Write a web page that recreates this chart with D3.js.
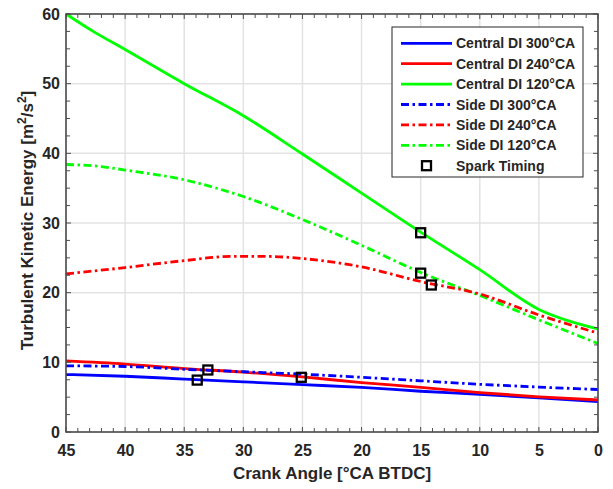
<!DOCTYPE html>
<html><head><meta charset="utf-8">
<script src="https://cdn.jsdelivr.net/npm/d3@7"></script>
<style>body{margin:0;background:#fff}svg{display:block}text{font-family:"Liberation Sans",Arial,sans-serif;font-weight:bold;fill:#262626}</style>
</head><body><div id="chart"></div>
<script>
const c300X=[45,40,35,30,25,20,15,10,5,0];
const c300Y=[8.25,8.0,7.6,7.2,6.8,6.4,5.85,5.4,4.9,4.35];
const c240X=[45,40,35,30,25,20,15,10,5,0];
const c240Y=[10.2,9.75,9.1,8.6,7.9,7.1,6.4,5.65,5.05,4.6];
const c120X=[45,42.7,40,35,30,25,20,15,10,5,2,0];
const c120Y=[60,57.5,54.9,50.0,45.4,39.9,34.3,28.7,23.3,17.6,15.7,14.8];
const s300X=[45,40,35,30,25,20,15,10,5,0];
const s300Y=[9.5,9.4,9.0,8.65,8.3,7.85,7.35,6.85,6.45,6.1];
const s240X=[45,40,35,31,28,25,20,15,10,5,0];
const s240Y=[22.7,23.6,24.6,25.2,25.2,24.9,23.7,21.6,19.8,16.8,14.2];
const s120X=[45,42,40,35,30,25,20,15,10,5,0];
const s120Y=[38.4,38.1,37.6,36.2,33.8,30.5,26.8,22.9,19.6,16.1,12.7];
const sparkX=[33.9,33,25.1,15,15,14.1];
const sparkY=[7.45,8.9,7.85,28.6,22.8,21.1];
const seriesNames=["Central DI 300°CA","Central DI 240°CA","Central DI 120°CA","Side DI 300°CA","Side DI 240°CA","Side DI 120°CA"];
const seriesColors=["#0000ff","#ff0000","#00ff00","#0000ff","#ff0000","#00ff00"];
const xTicks=[45,40,35,30,25,20,15,10,5,0];
const yTicks=[0,10,20,30,40,50,60];

const W=613,H=489;
const m={l:66,r:15,t:14,b:57};
const svg=d3.select("#chart").append("svg").attr("width",W).attr("height",H);
const x=d3.scaleLinear().domain([45,0]).range([m.l,W-m.r]);
const y=d3.scaleLinear().domain([0,60]).range([H-m.b,m.t]);
const pw=W-m.r-m.l, ph=H-m.b-m.t;

// grid
const g=svg.append("g");
g.selectAll("line.gx").data(xTicks).join("line").attr("x1",d=>x(d)).attr("x2",d=>x(d)).attr("y1",m.t).attr("y2",H-m.b).attr("stroke","#e3e3e3").attr("stroke-width",1.5);
g.selectAll("line.gy").data(yTicks).join("line").attr("y1",d=>y(d)).attr("y2",d=>y(d)).attr("x1",m.l).attr("x2",W-m.r).attr("stroke","#e3e3e3").attr("stroke-width",1.5);

// series
const allX=[c300X,c240X,c120X,s300X,s240X,s120X];
const allY=[c300Y,c240Y,c120Y,s300Y,s240Y,s120Y];
const line=d3.line().x(d=>x(d[0])).y(d=>y(d[1])).curve(d3.curveMonotoneX);
const dash="8,3.5,2.5,3.5";
const drawOrder=[2,5,4,0,1,3];
drawOrder.forEach(i=>{
  const pts=allX[i].map((v,j)=>[v,allY[i][j]]);
  svg.append("path").datum(pts).attr("d",line).attr("fill","none").attr("stroke",seriesColors[i]).attr("stroke-width",2.8)
    .attr("stroke-dasharray",i>=3?dash:null);
});
// spark markers
svg.selectAll("rect.sp").data(sparkX.map((v,j)=>[v,sparkY[j]])).join("rect")
  .attr("x",d=>x(d[0])-4.5).attr("y",d=>y(d[1])-4.5).attr("width",9).attr("height",9)
  .attr("fill","none").attr("stroke","#000").attr("stroke-width",2.3);

// axes box
const axc="#4d4d4d";
const xa=d3.axisBottom(x).tickValues(xTicks).tickSize(0).tickPadding(13);
const xb=svg.append("g").attr("transform",`translate(0,${H-m.b})`).call(xa);
xb.select(".domain").remove();
xb.selectAll("text").attr("font-size",16).attr("fill","#262626");
const ya=d3.axisLeft(y).tickValues(yTicks).tickSize(0).tickPadding(6);
const yb=svg.append("g").attr("transform",`translate(${m.l},0)`).call(ya);
yb.select(".domain").remove();
yb.selectAll("text").attr("font-size",16).attr("fill","#262626");

// ticks (inward), major and minor on all sides
const xMinor=d3.range(0,46,1), yMinor=d3.range(0,60.1,2.5);
const tk=svg.append("g").attr("stroke",axc).attr("stroke-width",1);
xMinor.forEach(v=>{
  const L=(v%5===0)?5:4;
  tk.append("line").attr("x1",x(v)).attr("x2",x(v)).attr("y1",H-m.b).attr("y2",H-m.b-L);
  tk.append("line").attr("x1",x(v)).attr("x2",x(v)).attr("y1",m.t).attr("y2",m.t+L);
});
yMinor.forEach(v=>{
  const L=(v%10===0)?5:4;
  tk.append("line").attr("x1",m.l).attr("x2",m.l+L).attr("y1",y(v)).attr("y2",y(v));
  tk.append("line").attr("x1",W-m.r).attr("x2",W-m.r-L).attr("y1",y(v)).attr("y2",y(v));
});
svg.append("rect").attr("x",m.l).attr("y",m.t).attr("width",pw).attr("height",ph).attr("fill","none").attr("stroke",axc).attr("stroke-width",1.6);

// axis titles
svg.append("text").attr("x",m.l+pw/2).attr("y",479).attr("text-anchor","middle").attr("font-size",17).text("Crank Angle [°CA BTDC]");
const yt=svg.append("text").attr("transform",`translate(33,${220.5}) rotate(-90)`).attr("text-anchor","middle").attr("font-size",17);
yt.append("tspan").text("Turbulent Kinetic Energy [m");
yt.append("tspan").attr("dy",-7).attr("font-size",12).text("2");
yt.append("tspan").attr("dy",7).text("/s");
yt.append("tspan").attr("dy",-7).attr("font-size",12).text("2");
yt.append("tspan").attr("dy",7).text("]");

// legend
const lg=svg.append("g");
lg.append("rect").attr("x",392).attr("y",27).attr("width",191).attr("height",150).attr("fill","#fff").attr("stroke","#262626").attr("stroke-width",1);
seriesNames.forEach((n,i)=>{
  const yy=43.3+i*20.4;
  lg.append("line").attr("x1",401).attr("x2",452).attr("y1",yy).attr("y2",yy).attr("stroke",seriesColors[i]).attr("stroke-width",2.8)
    .attr("stroke-dasharray",i>=3?dash:null);
  lg.append("text").attr("x",456).attr("y",yy+5).attr("font-size",14).text(n);
});
const ys=43.3+6*20.4;
lg.append("rect").attr("x",426.5-4.5).attr("y",ys-4.5).attr("width",9).attr("height",9).attr("fill","none").attr("stroke","#000").attr("stroke-width",2.3);
lg.append("text").attr("x",456).attr("y",ys+5).attr("font-size",14).text("Spark Timing");
</script></body></html>
